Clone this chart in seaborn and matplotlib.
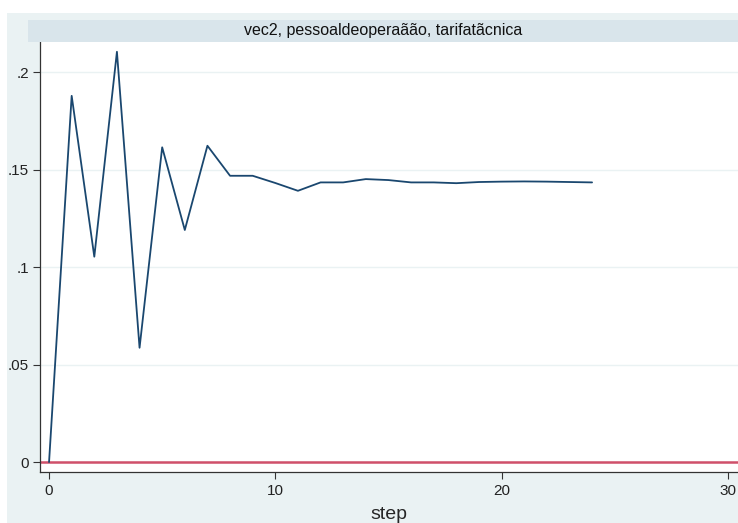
import matplotlib.pyplot as plt
import matplotlib.patches as mpatches
import seaborn as sns
import pandas as pd

# impulse response, vec2
step = list(range(25))
irf = [0.0, 0.1878, 0.1053, 0.2104, 0.0586, 0.1614, 0.1190, 0.1622, 0.1468,
       0.1468, 0.1431, 0.1391, 0.1434, 0.1434, 0.1451, 0.1446, 0.1434, 0.1434,
       0.1430, 0.1436, 0.1438, 0.1439, 0.1438, 0.1436, 0.1434]
yticks = [0, 0.05, 0.1, 0.15, 0.2]
ylabels = ["0", ".05", ".1", ".15", ".2"]
xticks = [0, 10, 20, 30]
title = "vec2, pessoaldeoperaãão, tarifatãcnica"

df = pd.DataFrame({"step": step, "irf": irf})

sns.set_style("white")
plt.rcParams["font.family"] = ["Liberation Sans", "DejaVu Sans"]

fig = plt.figure(figsize=(7.38, 5.23), dpi=100)
fig.patch.set_facecolor("white")
# outer stata-style background
fig.patches.append(mpatches.Rectangle((7 / 738, 0), 1, 1 - 13 / 523,
                                      transform=fig.transFigure,
                                      facecolor="#eaf2f3", edgecolor="none", zorder=-10))

ax = fig.add_axes([40 / 738, 51 / 523, 1 - 40 / 738, (472 - 42) / 523])
ax.set_facecolor("white")

sns.lineplot(data=df, x="step", y="irf", ax=ax, color="#1a476f", linewidth=1.3, zorder=3)
ax.axhline(0, color="#d0506a", linewidth=1.8, zorder=2)

ax.set_xlim(-0.4, 30.45)
ax.set_ylim(-0.0051, 0.2154)
ax.set_yticks(yticks)
ax.set_yticklabels(ylabels)
ax.set_xticks(xticks)
ax.grid(axis="y", color="#eaf2f3", linewidth=1)
ax.tick_params(axis="both", length=5, width=0.8, color="#333333", labelsize=11,
               labelcolor="#222222", left=True, bottom=True)
ax.tick_params(axis="y", pad=3)
for s in ["top", "right"]:
    ax.spines[s].set_visible(False)
for s in ["left", "bottom"]:
    ax.spines[s].set_color("#333333")
    ax.spines[s].set_linewidth(0.9)
ax.set_xlabel("step", fontsize=14, labelpad=6)
ax.set_ylabel("")

# title strip
strip = fig.add_axes([28 / 738, (523 - 42) / 523, 1 - 28 / 738, 22 / 523])
strip.set_facecolor("#d9e5eb")
strip.set_xticks([])
strip.set_yticks([])
for s in strip.spines.values():
    s.set_visible(False)
strip.text(0.5, 0.5, title, ha="center", va="center", fontsize=11.5, color="#111111",
           transform=strip.transAxes)

fig.savefig("out.png", dpi=100)
